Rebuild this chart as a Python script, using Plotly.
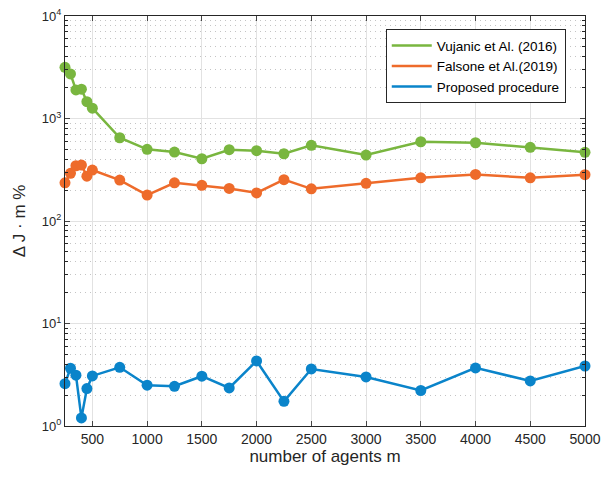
import plotly.graph_objects as go

m_agents = [250, 300, 350, 400, 450, 500, 750, 1000, 1250, 1500, 1750, 2000, 2250, 2500,
            3000, 3500, 4000, 4500, 5000]
vujanic = [3160, 2720, 1900, 1930, 1460, 1260, 649, 500, 471, 405, 496, 485, 453, 547,
           440, 593, 580, 523, 468]
falsone = [236, 292, 346, 351, 274, 314, 251, 179, 236, 223, 208, 188, 253, 206,
           233, 264, 285, 264, 283]
proposed = [2.59, 3.66, 3.13, 1.20, 2.32, 3.08, 3.74, 2.50, 2.44, 3.06, 2.35, 4.31, 1.74, 3.60,
            3.01, 2.22, 3.69, 2.75, 3.85]

names = ["Vujanic et Al. (2016)", "Falsone et Al.(2019)", "Proposed procedure"]
colors = ["#79B63F", "#EE6B2B", "#0A84CA"]
series = [vujanic, falsone, proposed]

x_ticks = [500, 1000, 1500, 2000, 2500, 3000, 3500, 4000, 4500, 5000]
y_ticks = [1, 10, 100, 1000, 10000]
y_ticktext = ["10<sup>0</sup>", "10<sup>1</sup>", "10<sup>2</sup>", "10<sup>3</sup>", "10<sup>4</sup>"]
y_minor = [k * d for d in [1, 10, 100, 1000] for k in range(2, 10)]

fig = go.Figure()
for name, col, ys in zip(names, colors, series):
    fig.add_trace(go.Scatter(x=m_agents, y=ys, mode="lines+markers", name=name,
                             line=dict(color=col, width=2.5),
                             marker=dict(color=col, size=11),
                             showlegend=False, cliponaxis=False))
for name, col in zip(names, colors):
    fig.add_trace(go.Scatter(x=[None], y=[None], mode="lines", name=name,
                             line=dict(color=col, width=2.5), showlegend=True))

fig.update_layout(
    width=601, height=477,
    margin=dict(l=65, r=16, t=16, b=51),
    paper_bgcolor="white", plot_bgcolor="white",
    font=dict(family="Liberation Sans, Arial, sans-serif", size=14, color="#262626"),
    legend=dict(x=0.963, y=0.968, xanchor="right", yanchor="top",
                bgcolor="white", bordercolor="#262626", borderwidth=1,
                font=dict(size=13.5, color="#000000"), tracegroupgap=0,
                itemwidth=40),
    xaxis=dict(range=[250, 5000], tickvals=x_ticks, ticks="inside", ticklen=5,
               showline=True, linecolor="#262626", linewidth=1, mirror="ticks",
               showgrid=True, gridcolor="#E2E2E2", gridwidth=1, zeroline=False,
               automargin=False, ticklabeloverflow="allow",
               title=dict(text="number of agents m", font=dict(size=17), standoff=4),
               tickfont=dict(size=14)),
    yaxis=dict(type="log", range=[0, 4], tickvals=y_ticks, ticktext=y_ticktext,
               ticks="inside", ticklen=5,
               showline=True, linecolor="#262626", linewidth=1, mirror="ticks",
               showgrid=True, gridcolor="#E2E2E2", gridwidth=1, zeroline=False,
               automargin=False, ticklabeloverflow="allow",
               minor=dict(tickvals=y_minor, ticks="inside", ticklen=3, tickcolor="#262626",
                          showgrid=True, gridcolor="#C4C4C4", griddash="1px,4px", gridwidth=1),
               title=dict(text="\u0394 J \u00b7 m %", font=dict(size=17), standoff=11),
               tickfont=dict(size=13)),
)

fig.write_html("out.html", config={"displayModeBar": False},
               post_script="document.body.style.margin='0';document.body.style.overflow='hidden';")
